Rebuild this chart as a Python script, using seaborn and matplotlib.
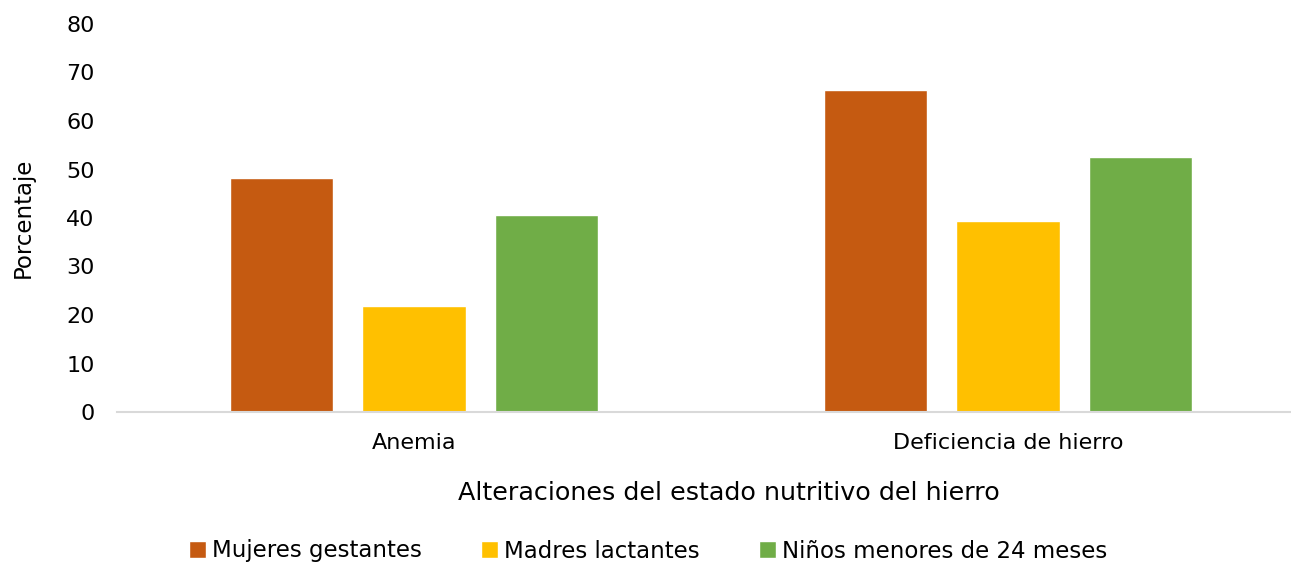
import pandas as pd
import seaborn as sns
import matplotlib.pyplot as plt

# Data
categorias = ['Anemia', 'Deficiencia de hierro']
grupos = ['Mujeres gestantes', 'Madres lactantes', 'Niños menores de 24 meses']
mujeres_gestantes = [48.2, 66.3]
madres_lactantes = [21.8, 39.4]
ninos_24m = [40.6, 52.6]
colores = ['#c55a11', '#ffc000', '#70ad47']

df = pd.DataFrame({
    'Alteracion': categorias * 3,
    'Grupo': [g for g in grupos for _ in categorias],
    'Porcentaje': mujeres_gestantes + madres_lactantes + ninos_24m,
})

sns.set_theme(style="white")
plt.rcParams['font.family'] = ['DejaVu Sans']

W, H = 1291, 565
fig = plt.figure(figsize=(W / 100, H / 100), dpi=100)
ax = fig.add_axes([117 / W, 1 - 412 / H, (1291 - 117) / W, (412 - 24) / H])

sns.barplot(
    data=df, x='Alteracion', y='Porcentaje', hue='Grupo',
    hue_order=grupos, palette=colores, width=0.667, gap=0.22,
    saturation=1, ax=ax, legend=True
)

ax.set_xlim(-0.5, 1.5 - 14 / 594)
ax.set_ylim(0, 80)
ax.set_yticks(range(0, 81, 10))
ax.tick_params(axis='both', length=0, labelsize=16, colors='#000000')
ax.tick_params(axis='y', pad=16)
ax.tick_params(axis='x', pad=15)

ax.set_ylabel('Porcentaje', fontsize=16.5, color='#000000', labelpad=23)
ax.set_xlabel('Alteraciones del estado nutritivo del hierro', fontsize=18.3,
              color='#000000')
ax.xaxis.set_label_coords((729 - 117) / (1291 - 117), -0.178)
ax.xaxis.label.set_verticalalignment('top')

for loc, spine in ax.spines.items():
    if loc == 'bottom':
        spine.set_color('#d9d9d9')
        spine.set_linewidth(1.5)
    else:
        spine.set_visible(False)
ax.grid(False)

handles, labels = ax.get_legend_handles_labels()
ax.legend_.remove()
leg = fig.legend(handles, labels, loc='center', bbox_to_anchor=(648 / W, 1 - 551 / H),
                 ncol=3, frameon=False, fontsize=16.5, handlelength=0.75,
                 handleheight=0.75, handletextpad=0.25, columnspacing=2.6)
for t in leg.get_texts():
    t.set_color('#000000')

plt.savefig('out.png', dpi=100)
